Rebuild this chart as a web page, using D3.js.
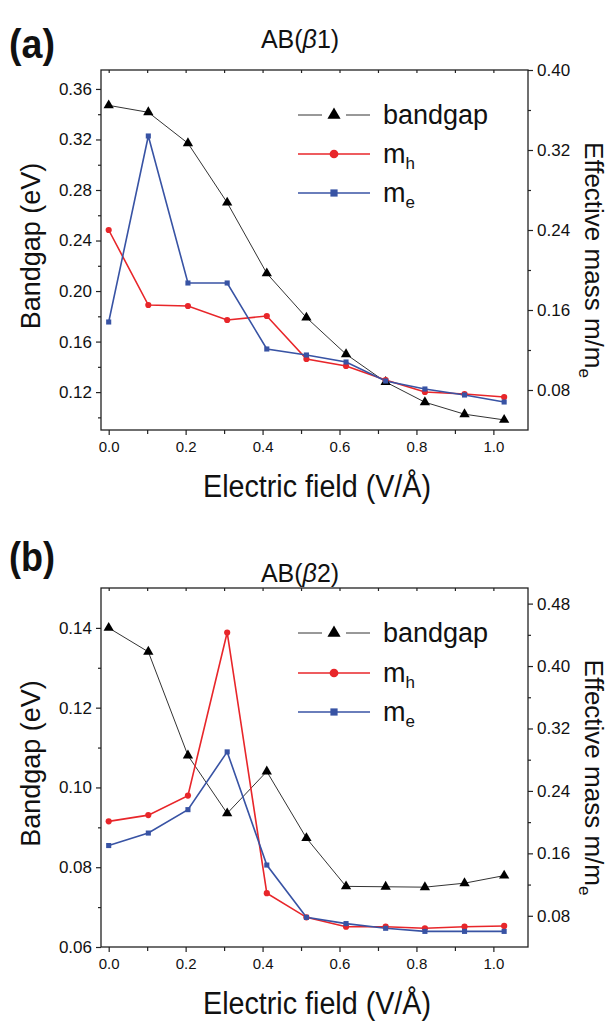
<!DOCTYPE html>
<html>
<head>
<meta charset="utf-8">
<script src="https://cdn.jsdelivr.net/npm/d3@7"></script>
<style>
  body { margin: 0; background: #fff; }
  svg text { font-family: "Liberation Sans", Arial, sans-serif; fill: #111; }
</style>
</head>
<body>
<svg id="chart" width="613" height="1021"></svg>
<script>
// Electric field values (V/Å), same for both panels
const field = [0, 0.103, 0.206, 0.308, 0.411, 0.514, 0.617, 0.720, 0.822, 0.925, 1.028];

// Panel (a) AB(β1)
const gapA = [0.347, 0.3415, 0.317, 0.270, 0.214, 0.179, 0.150, 0.128, 0.112, 0.1025, 0.098];
const mhA  = [0.240, 0.165, 0.164, 0.150, 0.154, 0.111, 0.104, 0.090, 0.078, 0.076, 0.073];
const meA  = [0.148, 0.334, 0.187, 0.187, 0.121, 0.115, 0.108, 0.089, 0.081, 0.075, 0.068];

// Panel (b) AB(β2)
const gapB = [0.140, 0.134, 0.108, 0.0935, 0.104, 0.0873, 0.0752, 0.0751, 0.0750, 0.0760, 0.0779];
const mhB  = [0.201, 0.209, 0.234, 0.443, 0.109, 0.078, 0.066, 0.066, 0.064, 0.066, 0.067];
const meB  = [0.170, 0.186, 0.216, 0.290, 0.145, 0.078, 0.070, 0.064, 0.060, 0.060, 0.060];

// Tick values
const xTicks = [0, 0.2, 0.4, 0.6, 0.8, 1.0];
const xMinor = [0.1, 0.3, 0.5, 0.7, 0.9];
const leftTicksA = [0.12, 0.16, 0.20, 0.24, 0.28, 0.32, 0.36];
const leftMinorA = [0.10, 0.14, 0.18, 0.22, 0.26, 0.30, 0.34];
const rightTicksA = [0.08, 0.16, 0.24, 0.32, 0.40];
const rightMinorA = [0.12, 0.20, 0.28, 0.36];
const leftTicksB = [0.06, 0.08, 0.10, 0.12, 0.14];
const leftMinorB = [0.07, 0.09, 0.11, 0.13];
const rightTicksB = [0.08, 0.16, 0.24, 0.32, 0.40, 0.48];
const rightMinorB = [0.12, 0.20, 0.28, 0.36, 0.44];

const colors = { gap: "#333", mh: "#e8262a", me: "#3853a4" };

const svg = d3.select("#chart");
svg.append("rect").attr("width", 613).attr("height", 1021).attr("fill", "#fff");

drawPanel({
  top: 70, bottom: 430, tag: "(a)", sub: "1", tagY: 58, titleY: 48,
  leftDomain: [0.09, 0.375], rightDomain: [0.04, 0.40],
  leftTicks: leftTicksA, leftMinor: leftMinorA,
  rightTicks: rightTicksA, rightMinor: rightMinorA,
  gap: gapA, mh: mhA, me: meA, legendY: [115, 154, 193]
});

drawPanel({
  top: 588, bottom: 947, tag: "(b)", sub: "2", tagY: 571, titleY: 582,
  leftDomain: [0.06, 0.15], rightDomain: [0.04, 0.50],
  leftTicks: leftTicksB, leftMinor: leftMinorB,
  rightTicks: rightTicksB, rightMinor: rightMinorB,
  gap: gapB, mh: mhB, me: meB, legendY: [633, 673, 712]
});

function drawPanel(cfg) {
  const left = 101, right = 528;
  const g = svg.append("g");

  const x = d3.scaleLinear().domain([-0.02, 1.09]).range([left, right]);
  const yL = d3.scaleLinear().domain(cfg.leftDomain).range([cfg.bottom, cfg.top]);
  const yR = d3.scaleLinear().domain(cfg.rightDomain).range([cfg.bottom, cfg.top]);

  // panel tag and title
  g.append("text").attr("x", 9).attr("y", cfg.tagY)
    .style("font-weight", "bold").style("font-size", "40px")
    .attr("textLength", 46).attr("lengthAdjust", "spacingAndGlyphs").text(cfg.tag);
  const title = g.append("text").attr("x", 300).attr("y", cfg.titleY)
    .attr("text-anchor", "middle").style("font-size", "25px");
  title.append("tspan").text("AB(");
  title.append("tspan").style("font-style", "italic").text("β");
  title.append("tspan").text(cfg.sub + ")");

  // frame
  g.append("rect").attr("x", left).attr("y", cfg.top)
    .attr("width", right - left).attr("height", cfg.bottom - cfg.top)
    .attr("fill", "none").attr("stroke", "#222").attr("stroke-width", 1.3);

  // axes
  const addAxis = (axis, transform) => {
    const a = g.append("g").attr("transform", transform).call(axis);
    a.select(".domain").remove();
    a.selectAll("line").attr("stroke", "#222").attr("stroke-width", 1.2);
    return a;
  };

  const xa = addAxis(d3.axisBottom(x).tickValues(xTicks).tickSize(5).tickPadding(6)
    .tickFormat(d3.format(".1f")), `translate(0,${cfg.bottom})`);
  xa.selectAll("text").style("font-size", "15px").attr("fill", "#111");
  addAxis(d3.axisBottom(x).tickValues(xMinor).tickSize(4).tickFormat(""), `translate(0,${cfg.bottom})`);
  // inner ticks on top edge
  addAxis(d3.axisBottom(x).tickValues(xTicks.concat(xMinor)).tickSize(3).tickFormat(""), `translate(0,${cfg.top})`);

  const la = addAxis(d3.axisLeft(yL).tickValues(cfg.leftTicks).tickSize(5).tickPadding(4)
    .tickFormat(d3.format(".2f")), `translate(${left},0)`);
  la.selectAll("text").style("font-size", "17px").attr("fill", "#111");
  addAxis(d3.axisLeft(yL).tickValues(cfg.leftMinor).tickSize(3).tickFormat(""), `translate(${left},0)`);

  const ra = addAxis(d3.axisRight(yR).tickValues(cfg.rightTicks).tickSize(5).tickPadding(4)
    .tickFormat(d3.format(".2f")), `translate(${right},0)`);
  ra.selectAll("text").style("font-size", "17px").attr("fill", "#111");
  addAxis(d3.axisRight(yR).tickValues(cfg.rightMinor).tickSize(3).tickFormat(""), `translate(${right},0)`);

  // axis titles
  g.append("text").attr("x", 317).attr("y", cfg.bottom + 67)
    .attr("text-anchor", "middle").style("font-size", "31px")
    .attr("textLength", 228).attr("lengthAdjust", "spacingAndGlyphs")
    .text("Electric field (V/Å)");

  const mid = (cfg.top + cfg.bottom) / 2;
  g.append("text").attr("transform", `translate(40,${mid - 4}) rotate(-90)`)
    .attr("text-anchor", "middle").style("font-size", "27px").text("Bandgap (eV)");

  const rt = g.append("text").attr("transform", `translate(585,${mid + 10}) rotate(90)`)
    .attr("text-anchor", "middle").style("font-size", "26px");
  rt.append("tspan").text("Effective mass m/m");
  rt.append("tspan").attr("dy", 6).style("font-size", "17px").text("e");

  // series
  const lineL = d3.line().x((d, i) => x(field[i])).y(d => yL(d));
  const lineR = d3.line().x((d, i) => x(field[i])).y(d => yR(d));

  g.append("path").datum(cfg.gap).attr("d", lineL)
    .attr("fill", "none").attr("stroke", colors.gap).attr("stroke-width", 1);
  g.append("path").datum(cfg.mh).attr("d", lineR)
    .attr("fill", "none").attr("stroke", colors.mh).attr("stroke-width", 1.6);
  g.append("path").datum(cfg.me).attr("d", lineR)
    .attr("fill", "none").attr("stroke", colors.me).attr("stroke-width", 1.6);

  const tri = d3.symbol(d3.symbolTriangle).size(46);
  const circ = d3.symbol(d3.symbolCircle).size(30);
  const sq = d3.symbol(d3.symbolSquare).size(26);

  g.selectAll("path.gap").data(cfg.gap).enter().append("path").attr("class", "gap")
    .attr("d", tri).attr("fill", "#000")
    .attr("transform", (d, i) => `translate(${x(field[i])},${yL(d)})`);
  g.selectAll("path.mh").data(cfg.mh).enter().append("path").attr("class", "mh")
    .attr("d", circ).attr("fill", colors.mh)
    .attr("transform", (d, i) => `translate(${x(field[i])},${yR(d)})`);
  g.selectAll("path.me").data(cfg.me).enter().append("path").attr("class", "me")
    .attr("d", sq).attr("fill", colors.me)
    .attr("transform", (d, i) => `translate(${x(field[i])},${yR(d)})`);

  // legend
  const lx0 = 298, lx1 = 370, lm = 334, tx = 383;
  const [y1, y2, y3] = cfg.legendY;
  g.append("line").attr("x1", lx0).attr("x2", lm - 12).attr("y1", y1).attr("y2", y1)
    .attr("stroke", colors.gap).attr("stroke-width", 1);
  g.append("line").attr("x1", lm + 12).attr("x2", lx1).attr("y1", y1).attr("y2", y1)
    .attr("stroke", colors.gap).attr("stroke-width", 1);
  g.append("path").attr("d", d3.symbol(d3.symbolTriangle).size(75)())
    .attr("transform", `translate(${lm},${y1})`).attr("fill", "#000");
  g.append("text").attr("x", tx).attr("y", y1 + 9).style("font-size", "27px").text("bandgap");

  g.append("line").attr("x1", lx0).attr("x2", lx1).attr("y1", y2).attr("y2", y2)
    .attr("stroke", colors.mh).attr("stroke-width", 1.6);
  g.append("path").attr("d", d3.symbol(d3.symbolCircle).size(60)())
    .attr("transform", `translate(${lm},${y2})`).attr("fill", colors.mh);
  const t2 = g.append("text").attr("x", tx).attr("y", y2 + 9).style("font-size", "27px");
  t2.append("tspan").text("m");
  t2.append("tspan").attr("dy", 6).style("font-size", "17px").text("h");

  g.append("line").attr("x1", lx0).attr("x2", lx1).attr("y1", y3).attr("y2", y3)
    .attr("stroke", colors.me).attr("stroke-width", 1.6);
  g.append("path").attr("d", d3.symbol(d3.symbolSquare).size(52)())
    .attr("transform", `translate(${lm},${y3})`).attr("fill", colors.me);
  const t3 = g.append("text").attr("x", tx).attr("y", y3 + 9).style("font-size", "27px");
  t3.append("tspan").text("m");
  t3.append("tspan").attr("dy", 6).style("font-size", "17px").text("e");
}
</script>
</body>
</html>
